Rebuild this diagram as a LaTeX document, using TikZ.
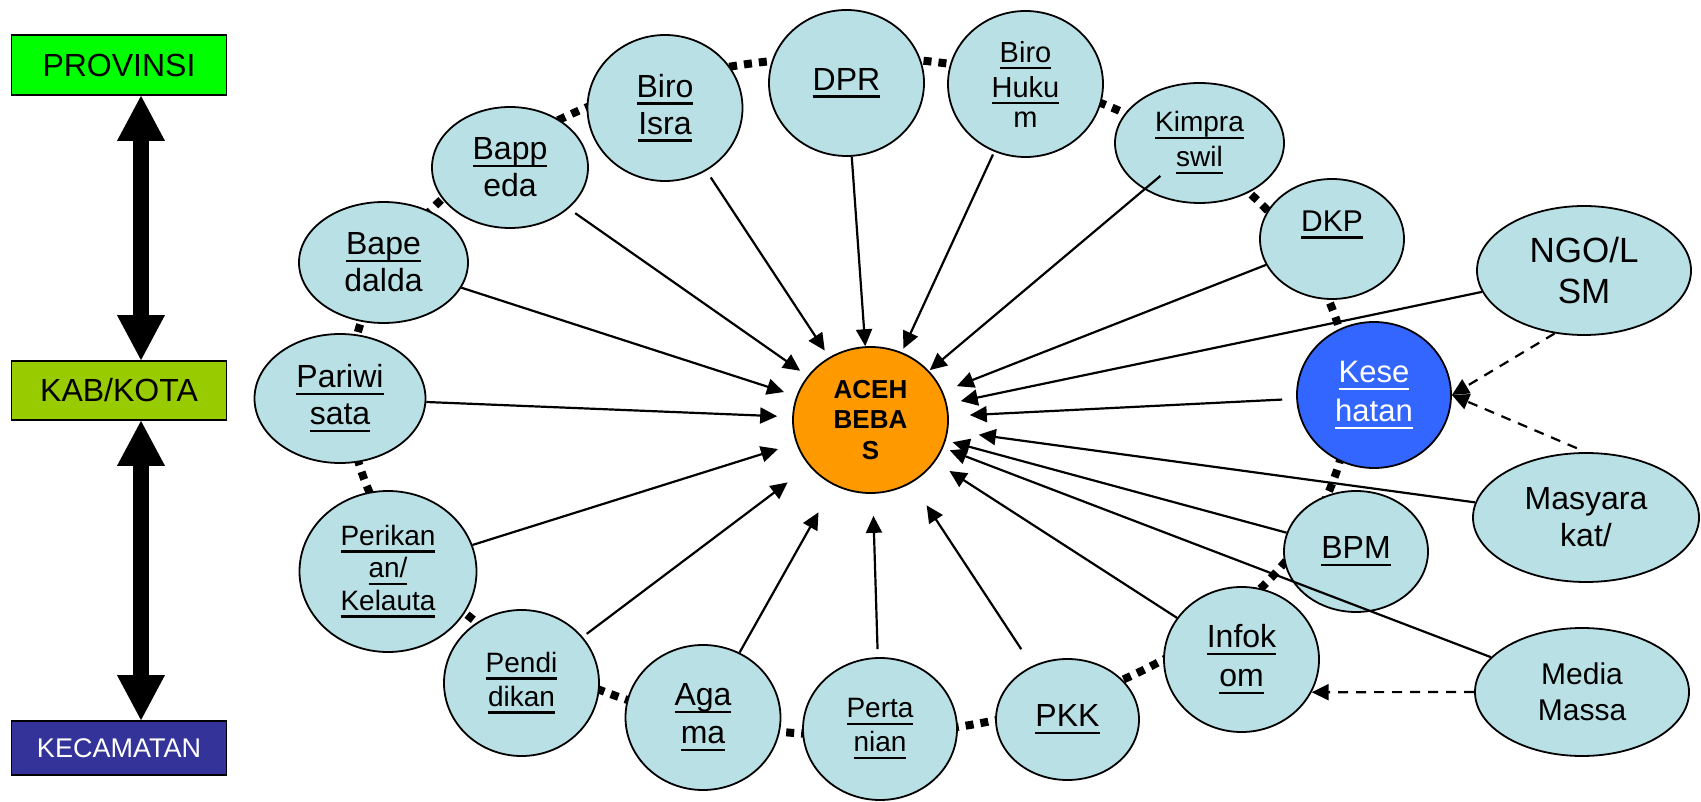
\documentclass[tikz,border=0pt]{standalone}
\usepackage{fontspec}
\setmainfont{Liberation Sans}
\usetikzlibrary{shapes.geometric,arrows.meta,backgrounds}
\definecolor{bubble}{RGB}{185,224,228}
\definecolor{hub}{RGB}{255,153,0}
\definecolor{kesblue}{RGB}{51,102,255}
\definecolor{provgreen}{RGB}{0,255,0}
\definecolor{kabgreen}{RGB}{153,204,0}
\definecolor{kecblue}{RGB}{51,51,153}
\newcommand\lnk[1]{\setbox0=\hbox{#1}\rlap{\rule[-7.3pt]{\wd0}{2.3pt}}\box0}
\tikzset{
  bub/.style={ellipse, draw, line width=1.8pt, fill=bubble, inner sep=0pt, align=center},
  sz/.style 2 args={minimum width=#1pt, minimum height=#2pt},
  lvl/.style={draw, line width=1.8pt, minimum width=215pt, inner sep=0pt, font=\fontsize{32}{37}\selectfont},
  link/.style={line width=2.2pt, -{Triangle[length=17pt,width=16pt]}},
  dlink/.style={link, dash pattern=on 10pt off 8pt},
  ring/.style={line width=8pt, dash pattern=on 8pt off 7pt},
  lift/.style={line width=16pt, {Triangle[length=45pt,width=48pt,line width=0pt]}-{Triangle[length=45pt,width=48pt,line width=0pt]}},
  f28/.style={font=\fontsize{28}{34}\selectfont},
  f30/.style={font=\fontsize{30}{36}\selectfont},
  f32/.style={font=\fontsize{32}{37}\selectfont}
}
\begin{document}
\begin{tikzpicture}[x=1pt,y=-1pt]
  \useasboundingbox (0,0) rectangle (1701,802);
  % levels
  \node[lvl, fill=provgreen, minimum height=60pt] (prov) at (119,65) {PROVINSI};
  \node[lvl, fill=kabgreen, minimum height=59pt] (kab) at (119,390.5) {KAB/KOTA};
  \node[lvl, fill=kecblue, text=white, minimum height=54pt, font=\fontsize{27}{32}\selectfont] (kec) at (119,748) {KECAMATAN};
  \coordinate (lane) at (141,0);
  \draw[lift] (prov.south -| lane) -- (kab.north -| lane);
  \draw[lift] (kab.south -| lane) -- (kec.north -| lane);
  % ring of offices
  \node[bub, f32, sz={156}{121}] (bappeda) at (510,167.5) {\lnk{Bapp}\\eda};
  \node[bub, f32, sz={169}{121}] (bapedalda) at (383.5,262.5) {\lnk{Bape}\\dalda};
  \node[bub, f32, sz={171}{129}] (pariwisata) at (340,398.5) {\lnk{Pariwi}\\\lnk{sata}};
  \node[bub, font=\fontsize{28}{32.5}\selectfont, sz={177}{161}] (perikanan) at (388,571.5) {\lnk{Perikan}\\\lnk{an/}\\\lnk{Kelauta}};
  \node[bub, f28, sz={155}{146}] (pendidikan) at (521.5,683) {\lnk{Pendi}\\\lnk{dikan}};
  \node[bub, font=\fontsize{32}{38}\selectfont, sz={155}{145}] (agama) at (703,717.5) {\lnk{Aga}\\\lnk{ma}};
  \node[bub, f28, sz={154}{142}] (pertanian) at (880,729) {\lnk{Perta}\\\lnk{nian}};
  \node[bub, f32, sz={143}{121}] (pkk) at (1067.5,719.5) {\lnk{PKK}};
  \node[bub, font=\fontsize{32}{39}\selectfont, sz={155}{145}] (infokom) at (1241.5,659.5) {\lnk{Infok}\\\lnk{om}};
  \node[bub, f32, sz={144}{121}] (bpm) at (1356,551.5) {\lnk{BPM}};
  \node[bub, fill=kesblue, text=white, font=\fontsize{31}{39}\selectfont, sz={154}{146}] (kese) at (1374,395) {\lnk{Kese}\\\lnk{hatan}};
  \node[bub, f30, sz={144}{120}] (dkp) at (1332,239) {\lnk{DKP}\\\mbox{}};
  \node[bub, font=\fontsize{28}{35}\selectfont, sz={169}{120}] (kimpra) at (1199.5,143) {\lnk{Kimpra}\\\lnk{swil}};
  \node[bub, font=\fontsize{29}{35}\selectfont, sz={155}{146}] (birohukum) at (1025.5,84) {\lnk{Biro}\\\lnk{Huku}\\[-5pt]m};
  \node[bub, f32, sz={155}{146}] (dpr) at (846.5,83) {\lnk{DPR}};
  \node[bub, f32, sz={155}{146}] (biroisra) at (665,108) {\lnk{Biro}\\\lnk{Isra}};
  % outside partners
  \node[bub, font=\fontsize{35}{41}\selectfont, sz={214}{129}] (ngo) at (1584,270.5) {NGO/L\\SM};
  \node[bub, f32, sz={226}{129}] (masya) at (1586,517.5) {Masyara\\kat/};
  \node[bub, f30, sz={214}{128}] (media) at (1582,692) {Media\\Massa};
  % centre
  \node[bub, fill=hub, font=\fontsize{26}{30.5}\selectfont\bfseries, sz={155}{146}] (aceh) at (870.5,420) {ACEH\\BEBA\\S};
  \foreach \s/\p/\q in {bappeda/8/9, bapedalda/0/13, pariwisata/0/15, perikanan/0/19,
      pendidikan/5/27, agama/0/31, pertanian/8/22, pkk/20/27, infokom/0/17,
      bpm/0/7, media/0/7, kese/14/21, ngo/0/14, dkp/0/15, kimpra/-21/1,
      birohukum/3/4, dpr/0/0, biroisra/8/8}
    \draw[link, shorten <=\p pt, shorten >=\q pt] (\s) -- (aceh);
  \draw[dlink] (ngo.245) -- (kese.east);
  \draw[dlink, shorten <=10pt] (masya.north) -- (kese.east);
  \draw[dlink] (media.west) -- (infokom.335);
  \begin{scope}[on background layer]
    \coordinate (ringc) at (849,396);
    \draw[ring] (ringc) ellipse [x radius=500, y radius=339];
    \draw[link, shorten >=31pt] (masya) -- (aceh);
  \end{scope}
\end{tikzpicture}
\end{document}
